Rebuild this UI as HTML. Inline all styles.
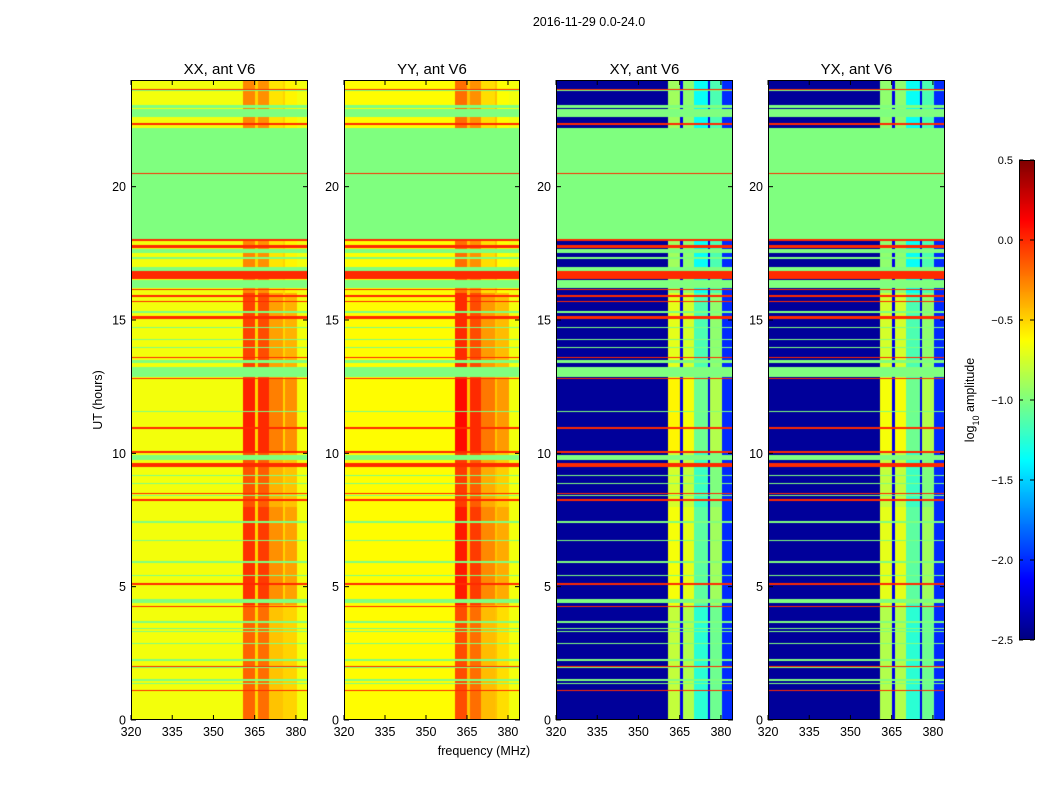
<!DOCTYPE html>
<html><head><meta charset="utf-8"><style>
body{margin:0;background:#fff;font-family:"Liberation Sans",sans-serif}
#wrap{position:relative;width:1050px;height:800px;overflow:hidden}
canvas{position:absolute}
svg{position:absolute;left:0;top:0}
</style></head><body>
<div id="wrap">
<canvas id="c0" width="177" height="640" style="left:131px;top:80px"></canvas>
<canvas id="c1" width="176" height="640" style="left:344px;top:80px"></canvas>
<canvas id="c2" width="177" height="640" style="left:556px;top:80px"></canvas>
<canvas id="c3" width="177" height="640" style="left:768px;top:80px"></canvas>
<canvas id="cb" width="15" height="480" style="left:1019px;top:160px"></canvas>
<svg id="ov" width="1050" height="800"></svg>
</div>
<script>
const panelTitles=["XX, ant V6","YY, ant V6","XY, ant V6","YX, ant V6"];
const xTicks=[320,335,350,365,380];
const yTicks=[0,5,10,15,20];
const cbTicks=[0.5,0.0,-0.5,-1.0,-1.5,-2.0,-2.5];
// frequency bands: [start MHz, end MHz, kind]
const freqBands=[[320,360.7,"bg"],[360.7,365.1,"c1"],[365.1,366.2,"gap"],[366.2,370.2,"c2"],[370.2,375.3,"c3"],[375.3,376,"gap"],[376,380.3,"c4"],[380.3,384.5,"edge"]];
// per-panel log amplitude for each band kind
const valXX={bg:-0.66,c1:-0.12,gap:-0.5,c2:-0.15,c3:-0.4,c4:-0.45,edge:-0.66};
const valYY={bg:-0.62,c1:-0.05,gap:-0.45,c2:-0.15,c3:-0.38,c4:-0.48,edge:-0.66};
const valXY={bg:-2.42,c1:-0.75,gap:-2.2,c2:-0.8,c3:-1.2,c4:-1.0,edge:-2.0};
const valYX={bg:-2.42,c1:-0.8,gap:-2.2,c2:-0.8,c3:-1.2,c4:-1.0,edge:-2.0};
// time segments modulating the bright columns: [start h, end h, delta]
const timeMod=[[0,4.3,-0.05],[4.3,8,0.1],[8,10,0],[10,12.8,0.15],[12.8,16,0.05],[16,24,-0.15]];
// flagged rows (constant value): [start h, end h]
const greenRows=[[23.6,23.65],[22.95,23.05],[22.6,22.9],[22.1,22.2],[17.95,22.1],[17.5,17.65],[17.3,17.35],[16.85,17.0],[16.2,16.5],[15.25,15.35],[14.7,14.75],[14.25,14.3],[13.95,14.0],[13.4,13.5],[12.85,13.25],[11.55,11.6],[10.9,10.95],[9.75,9.95],[9.15,9.2],[8.85,8.9],[8.4,8.45],[7.4,7.45],[6.7,6.75],[5.9,5.95],[5.4,5.45],[4.4,4.55],[3.65,3.7],[3.4,3.45],[3.3,3.35],[2.85,2.9],[2.2,2.3],[1.95,2.0],[1.45,1.55],[1.35,1.4]];
const redRows=[[23.62,23.68],[22.32,22.38],[20.48,20.52],[17.98,18.02],[17.7,17.8],[16.55,16.85],[16.12,16.17],[15.88,15.92],[15.68,15.72],[15.05,15.15],[13.58,13.62],[12.78,12.82],[10.93,10.97],[10.03,10.07],[9.5,9.62],[8.49,8.53],[8.23,8.28],[5.05,5.12],[4.97,5.0],[4.25,4.29],[2.0,2.04],[1.07,1.11]];
const panelVals=[valXX,valYY,valXY,valYX];
const vmin=-2.5,vmax=0.5,fmin=320,fmax=384.4,tmin=0,tmax=24;

function jet(v){let x=(v-vmin)/(vmax-vmin);x=Math.max(0,Math.min(1,x));
 const cl=t=>Math.max(0,Math.min(1,t));
 const r=cl(Math.min(4*x-1.5,-4*x+4.5)),g=cl(Math.min(4*x-0.5,-4*x+3.5)),b=cl(Math.min(4*x+0.5,-4*x+2.5));
 return [r*255|0,g*255|0,b*255|0];}
function inRows(rows,t){for(const r of rows)if(t>=r[0]&&t<=r[1])return true;return false;}
function kindAt(f){for(const b of freqBands)if(f>=b[0]&&f<b[1])return b[2];return "edge";}
function modAt(t){for(const s of timeMod)if(t>=s[0]&&t<s[1])return s[2];return 0;}

for(let p=0;p<4;p++){
 const cv=document.getElementById("c"+p),ctx=cv.getContext("2d"),W=cv.width,H=cv.height;
 const img=ctx.createImageData(W,H),vals=panelVals[p];
 for(let y=0;y<H;y++){
  const t=tmax-(y+0.5)/H*(tmax-tmin);
  const isR=inRows(redRows,t),isG=inRows(greenRows,t);
  const m=modAt(t);
  for(let x=0;x<W;x++){
   const f=fmin+(x+0.5)/W*(fmax-fmin);
   let v;
   if(isR)v=0.0;else if(isG)v=-1.0;else{
    const k=kindAt(f);v=vals[k];
    if(k!=="bg"&&k!=="edge"&&k!=="gap")v+=m;
   }
   const c=jet(v),i=(y*W+x)*4;
   img.data[i]=c[0];img.data[i+1]=c[1];img.data[i+2]=c[2];img.data[i+3]=255;
  }
 }
 ctx.putImageData(img,0,0);
}
{const cv=document.getElementById("cb"),ctx=cv.getContext("2d");
 for(let y=0;y<480;y++){const v=vmax-(y+0.5)/480*(vmax-vmin);const c=jet(v);ctx.fillStyle=`rgb(${c[0]},${c[1]},${c[2]})`;ctx.fillRect(0,y,15,1);}}

const NS="http://www.w3.org/2000/svg",ov=document.getElementById("ov");
function el(tag,attrs,txt){const e=document.createElementNS(NS,tag);for(const k in attrs)e.setAttribute(k,attrs[k]);if(txt!==undefined)e.textContent=txt;ov.appendChild(e);return e;}
const panels=[[131,308],[344,520],[556,733],[768,945]],yTop=80,yBot=720;
panels.forEach((pp,p)=>{
 const x0=pp[0],x1=pp[1];
 const xs=f=>x0+(f-fmin)/(fmax-fmin)*(x1-x0),ys=t=>yBot-(t-tmin)/(tmax-tmin)*(yBot-yTop);
 const fr=el("rect",{x:x0+0.5,y:yTop+0.5,width:x1-x0-1,height:yBot-yTop-1,fill:"none",stroke:"#000","stroke-width":1});
 
 
 const tt=el("text",{x:(x0+x1)/2,y:74,"text-anchor":"middle","font-size":15},panelTitles[p]);
 
 
 xTicks.forEach(v=>{const x=xs(v);
  el("line",{x1:x,x2:x,y1:yBot,y2:yBot-5,stroke:"#000"});el("line",{x1:x,x2:x,y1:yTop,y2:yTop+5,stroke:"#000"});
  const l=el("text",{x:x,y:yBot+16,"text-anchor":"middle","font-size":12.5},String(v));
  
  });
 yTicks.forEach(v=>{const y=ys(v);
  el("line",{x1:x0,x2:x0+5,y1:y,y2:y,stroke:"#000"});el("line",{x1:x1,x2:x1-5,y1:y,y2:y,stroke:"#000"});
  const l=el("text",{x:x0-5,y:y+4.5,"text-anchor":"end","font-size":12.5},String(v));
  
  });
});
const st=el("text",{x:589,y:26,"text-anchor":"middle","font-size":12.5},"2016-11-29 0.0-24.0");


const xl=el("text",{x:484,y:755,"text-anchor":"middle","font-size":12.5},"frequency (MHz)");


const yl=el("text",{x:0,y:0,"text-anchor":"middle","font-size":12.5,transform:"translate(102,400) rotate(-90)"},"UT (hours)");


const cf=el("rect",{x:1019.5,y:160.5,width:15,height:479,fill:"none",stroke:"#000"});


cbTicks.forEach(v=>{const y=160+(vmax-v)/(vmax-vmin)*480;
 el("line",{x1:1030,x2:1034,y1:y,y2:y,stroke:"#000"});
 el("line",{x1:1019,x2:1023,y1:y,y2:y,stroke:"#000"});
 const t=el("text",{x:1013,y:y+4,"font-size":11,"text-anchor":"end"},(v<0?"\u2212":"")+Math.abs(v).toFixed(1));
 
 });
const cl=el("text",{x:0,y:0,"text-anchor":"middle","font-size":12.5,transform:"translate(974,400) rotate(-90)"});


cl.appendChild(document.createTextNode("log"));
const sub=document.createElementNS(NS,"tspan");
sub.setAttribute("baseline-shift","sub");
sub.setAttribute("font-size","9");
sub.textContent="10";
cl.appendChild(sub);
const rest=document.createElementNS(NS,"tspan");
rest.textContent=" amplitude";
cl.appendChild(rest);
</script>
</body></html>
